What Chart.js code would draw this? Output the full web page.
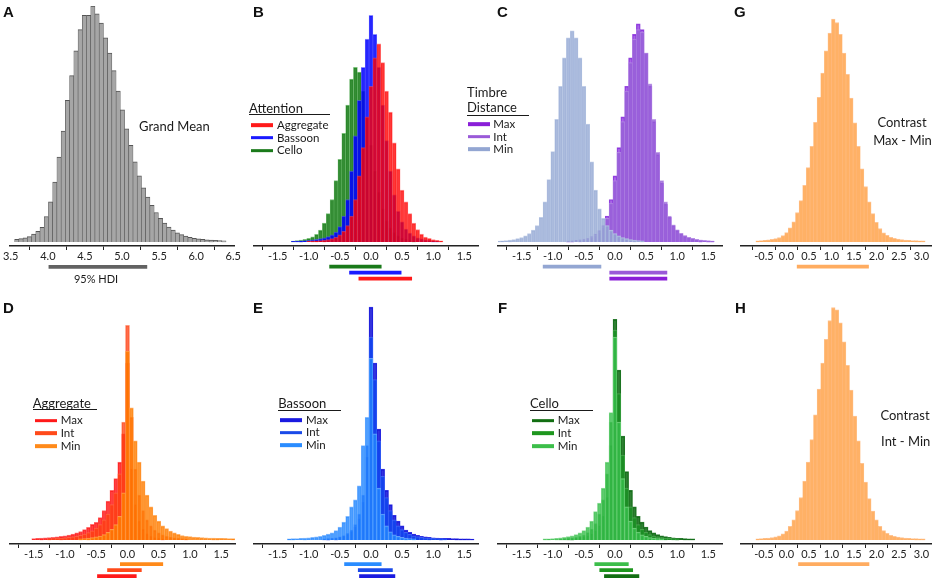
<!DOCTYPE html>
<html><head><meta charset="utf-8">
<script src="https://cdn.jsdelivr.net/npm/chart.js@4.4.1/dist/chart.umd.min.js"></script>
<style>
html,body{margin:0;padding:0;background:#fff;}
#root{position:relative;width:934px;height:581px;overflow:hidden;font-family:Lato,"Open Sans",sans-serif;color:#1a1a1a;}
.panel{position:absolute;}
.t{position:absolute;line-height:1;white-space:nowrap;transform:translateY(-50%);}
.tc{position:absolute;line-height:1;white-space:nowrap;transform:translate(-50%,-50%);}
.letter{position:absolute;font-family:"Liberation Sans",Arial,sans-serif;font-weight:bold;font-size:15px;line-height:1;color:#111;}
.ul{position:absolute;height:1.4px;background:#1a1a1a;}
.sw{position:absolute;height:3.7px;transform:translateY(-50%);}
</style></head><body><div id="root"></div>
<script>
// ---------- tick labels ----------
const ticksA = [3.5, 4.0, 4.5, 5.0, 5.5, 6.0, 6.5];
const ticksMid = [-1.5, -1.0, -0.5, 0.0, 0.5, 1.0, 1.5];
const ticksGH = [-0.5, 0.0, 0.5, 1.0, 1.5, 2.0, 2.5, 3.0];

// ---------- bin widths and first bin centres ----------
const binA = 0.057, binMid = 0.0625, binGH = 0.08;

// A: Grand Mean
const startA = 3.581;
const countsA = [1.1,1.4,1.8,2.3,3.3,4.5,6.2,10.8,17,25.4,36,47,60,70.5,81,90,96,96,100,96.7,92.8,86.5,80,72.6,64,56,48,41,34,28,23,19,15.5,12.5,10,8,6.3,5,3.9,3.1,2.5,2.0,1.6,1.3,1.1,0.9,0.8,0.7,0.6,0.5];

// B: Attention
const startAggB = -1.0;
const aggB = [0.3,0.4,0.5,0.6,0.8,1.0,1.4,2.0,3.0,4.5,7,11,18,28,40,53,66,78,84,76,64,55,42,31,22,17,12,8,5.3,3.3,2.1,1.5,1.0,0.7,0.5];
const startBassB = -1.25;
const bassB = [0.3,0.4,0.5,0.6,0.7,0.9,1.1,1.4,1.8,2.3,3.0,4.2,6.5,11,18,30,45,60,74,86,96,88,74,58,43,30,20,13,8.5,5.5,3.8,2.6,1.8,1.3,0.9,0.7,0.5,0.4];
const startCelloB = -1.25;
const celloB = [0.4,0.6,0.8,1.1,1.5,2.2,3.2,5,8,12,18,26,35,46,58,69,74,72,64,53,41,30,21,14,9,6,4,2.6,1.7,1.1,0.7,0.5];

// C: Timbre Distance
const startMinC = -1.875;
const minC = [0.4,0.5,0.6,0.8,1.0,1.4,1.9,2.6,3.6,5.0,7.0,10.5,17,26.4,38.3,52,66,78,86.5,89.5,86.5,78,66,50,34,22,14,10,7,5,3.6,2.6,1.9,1.4,1.0,0.8,0.6,0.5];
const startIntC = -0.75;
const intC = [0.4,0.5,0.6,0.8,1.1,1.5,2.1,3.0,4.4,6.5,10,16.5,26,38,51,64,76,86,90,89,80,67,52,38,26,17,11,7.3,5.2,3.7,2.7,2.0,1.5,1.1,0.8,0.6,0.5,0.4];
const startMaxC = -0.75;
const maxC = [0.4,0.5,0.7,0.9,1.2,1.6,2.3,3.3,4.8,7,11,18,28,40,53,66,78,88,92.4,90,80,66,51,37,25,16,10.5,7.0,5.0,3.6,2.6,1.9,1.4,1.0,0.8,0.6,0.5,0.4];

// D: Aggregate
const startMinD = -0.75;
const minD = [0.5,0.6,0.8,1.0,1.3,1.7,2.3,3.2,4.5,6.5,10,20,80,56,42,33,25,19,14,10.5,8,6,4.8,3.8,3.0,2.4,1.9,1.6,1.4,1.2,1.1,1.0,0.9,0.85,0.8,0.75,0.7,0.65,0.6,0.55];
const startIntD = -1.25;
const intD = [0.5,0.6,0.7,0.8,0.9,1.1,1.3,1.6,2.0,2.5,3.1,3.9,5,6.5,8.5,11,15,20,28,50,91,52,30,19,12.5,8.5,6,4.2,3,2.2,1.6,1.2,0.9,0.7,0.6,0.5];
const startMaxD = -1.5;
const maxD = [0.6,0.7,0.8,0.9,1.0,1.1,1.3,1.5,1.8,2.1,2.5,3.0,3.6,4.4,5.4,6.6,7.5,9.5,12.5,16.5,21,26,33,45,75,30,15,8,4.5,2.6,1.6,1.0,0.7,0.5];

// E: Bassoon
const startMinE = -1.3125;
const minE = [0.5,0.55,0.6,0.7,0.8,0.9,1.1,1.3,1.6,2.0,2.5,3.0,4.0,5.5,7.6,10,14,17,23,40,52,77,45,22,11,6,3.5,2.2,1.5,1.1,0.8,0.6,0.5];
const startIntE = -0.75;
const intE = [0.45,0.55,0.7,0.9,1.3,1.9,2.8,4.2,6.5,11,19,40,86,68,42,27,18,12.5,8.5,6,4.4,3.2,2.4,1.8,1.4,1.1,0.9,0.8,0.7,0.6,0.55,0.5];
const startMaxE = -0.6875;
const maxE = [0.5,0.6,0.8,1.1,1.6,2.3,3.5,5.5,9,16,35,98.7,75,47,30,21,15,10.5,8,6,4.2,3.2,2.5,2.0,1.6,1.3,1.1,0.95,0.85,0.75,0.7,0.65,0.6,0.55,0.5,0.5,0.45,0.4];

// F: Cello
const startMinF = -1.125;
const minF = [0.45,0.5,0.6,0.75,0.9,1.1,1.4,1.8,2.3,3,4,5.5,8,12,15.6,22,33,54,86,50,26,14,8,5,3.3,2.2,1.5,1.0,0.7,0.55,0.45];
const startIntF = -0.875;
const intF = [0.45,0.5,0.65,0.8,1.1,1.5,2.1,3.1,4.6,7,11,17,28,50,89,62,36,22,14,9.5,6.5,4.5,3.2,2.3,1.7,1.3,1.0,0.8,0.65,0.55,0.45];
const startMaxF = -0.75;
const maxF = [0.45,0.55,0.7,0.9,1.2,1.7,2.5,3.8,6,10,18,40,93.5,72,44,29,21,14,10,7.6,5.5,4.0,3.0,2.3,1.8,1.4,1.1,0.9,0.75,0.65,0.55,0.5,0.45];

// G / H: contrasts
const startG = -0.64;
const countsG = [0.5,0.6,0.7,0.9,1.1,1.4,1.9,2.7,4.0,6.0,8.5,12.5,17.5,24,31.5,40.5,50.7,61.3,71.6,81,88.5,94.5,93,88,80,71,61,50.5,40.5,31,23.5,17,12,8.3,5.7,3.9,2.8,2.0,1.5,1.2,1.0,0.85,0.7,0.6,0.55,0.5,0.45];
const startH = -0.64;
const countsH = [0.5,0.6,0.7,0.85,1.0,1.3,1.8,2.6,3.8,5.8,8.5,12.5,18,25,33,42.5,53,64,75,85,93,98.5,97.5,92,84,74,63.5,52.5,42,32.5,24.5,17.5,12.3,8.5,5.8,4.0,2.8,2.0,1.5,1.2,1.0,0.85,0.7,0.6,0.55,0.5,0.45];

// ---------- 95% HDI intervals (nearest the axis first) ----------
const hdiA = [[4.01, 5.34]];
const hdiB = [[-0.67, 0.17], [-0.35, 0.49], [-0.20, 0.66]];          // Cello, Bassoon, Aggregate
const hdiC = [[-1.16, -0.22], [-0.09, 0.84], [-0.09, 0.84]];         // Min, Int, Max
const hdiD = [[-0.12, 0.57], [-0.325, 0.227], [-0.486, 0.146]];      // Min, Int, Max
const hdiE = [[-0.43, 0.17], [-0.21, 0.35], [-0.19, 0.39]];          // Min, Int, Max
const hdiF = [[-0.33, 0.22], [-0.25, 0.29], [-0.175, 0.39]];         // Min, Int, Max
const hdiG = [[0.23, 1.83]];
const hdiH = [[0.26, 1.84]];

// ---------- build ----------
const root = document.getElementById('root');
const PAD = 12;
function bins(start, width, counts) {
  return counts.map((v, i) => ({ x: Math.round((start + i * width) * 10000) / 10000, y: v }));
}
function S(start, counts, fill, border) { return { start, counts, fill, border }; }

const panels = [
  { left: 10, width: 224, top: 6, range: [3.49, 6.51], ticks: ticksA, bin: binA, hdiY: 20.8,
    series: [S(startA, countsA, '#a6a6a6', '#555555')],
    hdi: hdiA, hdiColors: ['#626262'] },
  { left: 254, width: 224, top: 6, range: [-1.88, 1.72], ticks: ticksMid, bin: binMid, hdiY: 20.7,
    series: [S(startAggB, aggB, 'rgba(255,0,0,0.78)', 'rgba(255,70,70,0.6)'),
             S(startBassB, bassB, 'rgba(0,0,255,0.85)', 'rgba(80,80,255,0.65)'),
             S(startCelloB, celloB, 'rgba(25,125,25,0.88)', 'rgba(110,185,110,0.9)')],
    hdi: hdiB, hdiColors: ['#1a7a1a', '#1a1aff', '#ff1a1a'] },
  { left: 498, width: 224, top: 6, range: [-1.88, 1.72], ticks: ticksMid, bin: binMid, hdiY: 20.7,
    series: [S(startMinC, minC, 'rgba(150,170,212,0.8)', 'rgba(185,200,228,0.9)'),
             S(startIntC, intC, 'rgba(150,95,215,0.75)', 'rgba(180,140,228,0.8)'),
             S(startMaxC, maxC, 'rgba(135,40,220,0.72)', 'rgba(125,30,215,0.8)')],
    hdi: hdiC, hdiColors: ['#93a6d2', '#9a5ad8', '#8a1fd8'] },
  { left: 741, width: 190, top: 6, range: [-1.01, 3.21], ticks: ticksGH, bin: binGH, hdiY: 20.7,
    series: [S(startG, countsG, 'rgb(255,177,102)', 'rgba(255,150,60,0.55)')],
    hdi: hdiG, hdiColors: ['#ffac60'] },
  { left: 10, width: 225, top: 304, range: [-1.88, 1.72], ticks: ticksMid, bin: binMid, hdiY: 20.2,
    series: [S(startMinD, minD, 'rgba(255,125,0,0.8)', 'rgba(255,165,80,0.85)'),
             S(startIntD, intD, 'rgba(255,60,15,0.75)', 'rgba(255,110,70,0.7)'),
             S(startMaxD, maxD, 'rgba(255,0,0,0.75)', 'rgba(255,50,50,0.7)')],
    hdi: hdiD, hdiColors: ['#ff8a1a', '#ff4a1a', '#ff1a1a'] },
  { left: 254, width: 224, top: 304, range: [-1.88, 1.72], ticks: ticksMid, bin: binMid, hdiY: 20.2,
    series: [S(startMinE, minE, 'rgba(35,135,255,0.8)', 'rgba(110,175,255,0.85)'),
             S(startIntE, intE, 'rgba(15,70,240,0.8)', 'rgba(70,115,250,0.75)'),
             S(startMaxE, maxE, 'rgba(15,15,215,0.85)', 'rgba(30,30,225,0.9)')],
    hdi: hdiE, hdiColors: ['#2a8cff', '#1a4ae8', '#1a1ae0'] },
  { left: 498, width: 224, top: 304, range: [-1.88, 1.72], ticks: ticksMid, bin: binMid, hdiY: 20.2,
    series: [S(startMinF, minF, 'rgba(55,190,75,0.8)', 'rgba(125,215,135,0.85)'),
             S(startIntF, intF, 'rgba(25,145,35,0.8)', 'rgba(80,175,85,0.75)'),
             S(startMaxF, maxF, 'rgba(10,105,15,0.85)', 'rgba(20,110,25,0.9)')],
    hdi: hdiF, hdiColors: ['#3cbe4a', '#1e961e', '#126e12'] },
  { left: 741, width: 190, top: 304, range: [-1.01, 3.21], ticks: ticksGH, bin: binGH, hdiY: 20.2,
    series: [S(startH, countsH, 'rgb(255,177,102)', 'rgba(255,150,60,0.55)')],
    hdi: hdiH, hdiColors: ['#ffac60'] }
];

function hdiPlugin(p) {
  return {
    id: 'hdi',
    afterDraw(chart) {
      const ctx = chart.ctx, xs = chart.scales.x, b = chart.chartArea.bottom;
      ctx.save();
      ctx.lineCap = 'butt';
      ctx.lineWidth = 3.7;
      p.hdi.forEach((r, i) => {
        const y = b + p.hdiY + 6 * i;
        ctx.strokeStyle = p.hdiColors[i];
        ctx.beginPath();
        ctx.moveTo(xs.getPixelForValue(r[0]), y);
        ctx.lineTo(xs.getPixelForValue(r[1]), y);
        ctx.stroke();
      });
      ctx.restore();
    }
  };
}

panels.forEach(p => {
  const wrap = document.createElement('div');
  wrap.className = 'panel';
  wrap.style.left = (p.left - PAD) + 'px';
  wrap.style.top = p.top + 'px';
  wrap.style.width = (p.width + 2 * PAD) + 'px';
  wrap.style.height = '280px';
  const cv = document.createElement('canvas');
  wrap.appendChild(cv);
  root.appendChild(wrap);
  new Chart(cv, {
    type: 'bar',
    data: {
      datasets: p.series.map(s => ({
        data: bins(s.start, p.bin, s.counts),
        backgroundColor: s.fill,
        borderColor: s.border,
        borderWidth: { top: 1, left: 0.6, right: 0.6, bottom: 0 },
        barPercentage: 1,
        categoryPercentage: 1,
        grouped: false
      }))
    },
    options: {
      responsive: true,
      maintainAspectRatio: false,
      animation: false,
      layout: { padding: { left: PAD, right: PAD, top: 0, bottom: 20 } },
      plugins: { legend: { display: false }, tooltip: { enabled: false }, title: { display: false } },
      scales: {
        x: {
          type: 'linear',
          min: p.range[0], max: p.range[1],
          offset: false,
          afterBuildTicks: s => { s.ticks = p.ticks.map(v => ({ value: v })); },
          afterFit: s => { s.height = 20; s.paddingLeft = 0; s.paddingRight = 0; },
          grid: { drawOnChartArea: false, drawTicks: true, tickLength: 4, color: '#222', lineWidth: 1 },
          border: { display: true, color: '#222', width: 1.5 },
          ticks: { font: { family: 'Lato', size: 11 }, color: '#222', padding: 0, maxRotation: 0, autoSkip: false,
                   callback: v => Number(v).toFixed(1) }
        },
        y: { display: false, min: -1.7, max: 100 }
      }
    },
    plugins: [hdiPlugin(p)]
  });
});

// ---------- text overlays ----------
function el(cls, text, styles) {
  const d = document.createElement('div');
  d.className = cls;
  if (text !== null) d.textContent = text;
  Object.assign(d.style, styles);
  root.appendChild(d);
  return d;
}
function txt(text, x, cy, size, center) {
  el(center ? 'tc' : 't', text, { left: x + 'px', top: cy + 'px', fontSize: size + 'px' });
}
function ul(x, y, w) { el('ul', null, { left: x + 'px', top: y + 'px', width: w + 'px' }); }
function legend(items, x, labelX, ys, w) {
  items.forEach((it, i) => {
    el('sw', null, { left: x + 'px', top: ys[i] + 'px', width: w + 'px', background: it[1] });
    txt(it[0], labelX, ys[i] - 0.3, 11.5, false);
  });
}

[['A', 3, 4], ['B', 253, 4], ['C', 497, 4], ['G', 734, 4],
 ['D', 3, 300], ['E', 253, 300], ['F', 498, 300], ['H', 735, 300]].forEach(l =>
  el('letter', l[0], { left: l[1] + 'px', top: l[2] + 'px' }));

txt('Grand Mean', 139, 125.5, 13, false);
txt('95% HDI', 96, 278, 11, true);

txt('Attention', 249, 107.5, 13, false);
ul(249, 113.6, 81);
legend([['Aggregate', '#ff1a1a'], ['Bassoon', '#1a1aff'], ['Cello', '#1a7a1a']], 250.5, 277, [125, 137.8, 150.7], 22.5);

txt('Timbre', 467, 91.5, 13, false);
txt('Distance', 467, 107.2, 13, false);
ul(467, 114.5, 62);
legend([['Max', '#8a1fd8'], ['Int', '#9a5ad8'], ['Min', '#93a6d2']], 467.5, 493.3, [124.3, 136.8, 149.3], 22.5);

txt('Contrast', 902, 121.7, 13, true);
txt('Max - Min', 902.5, 139.5, 13, true);

txt('Aggregate', 32.7, 402.5, 13, false);
ul(32.7, 408.6, 64);
legend([['Max', '#ff1a1a'], ['Int', '#ff4a1a'], ['Min', '#ff8a1a']], 35, 60.7, [420.7, 433.3, 446], 22);

txt('Bassoon', 278.3, 403, 13, false);
ul(278.3, 410, 63);
legend([['Max', '#1a1ae0'], ['Int', '#1a4ae8'], ['Min', '#2a8cff']], 280, 306, [420, 432.7, 445.3], 22);

txt('Cello', 530, 403.3, 13, false);
ul(530, 410, 63.3);
legend([['Max', '#126e12'], ['Int', '#1e961e'], ['Min', '#3cbe4a']], 531.7, 557.7, [420.7, 433.3, 446], 22.3);

txt('Contrast', 905, 415, 13, true);
txt('Int - Min', 905.7, 441.3, 13, true);
</script></body></html>
